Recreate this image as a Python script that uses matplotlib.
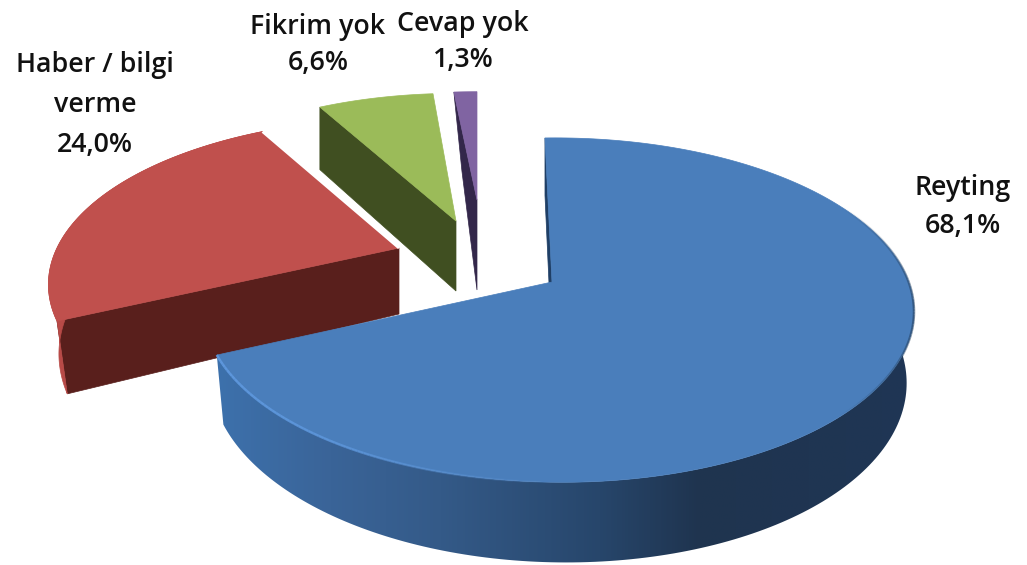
import numpy as np
import matplotlib
matplotlib.use("Agg")
import matplotlib.pyplot as plt
from matplotlib.collections import LineCollection
from matplotlib.colors import LinearSegmentedColormap, to_rgb

# data
categories = ["Reyting", "Haber / bilgi\nverme", "Fikrim yok", "Cevap yok"]
values = [68.1, 24.0, 6.6, 1.3]

# drawing styles (one per slice)
top_colors = ["#4a7ebb", "#c0504d", "#9bbb59", "#8064a2"]
face_colors = ["#1f3f66", "#591f1c", "#404f21", "#33274a"]
side_colors = ["#1f3550", "#b84a47", None, None]
centers = [(552, 282), (399, 248), (456, 221), (477, 200)]
rim_offset = [-6, 0, 0, 0]
radii_x = [350, 342, 320, 322]
radii_y = [167.5, 158, 145, 123]
persp_y = [0.163, 0.22, 0.136, 0.136]
persp_x = [0.035, 0.0, 0.0, 0.0]
shear = [-1.2, 0.0, 0.0, 0.0]
depths = [67, 66, 70, 90]
tapers = [0.02, 0.03, 0.0, 0.35]
label_pos = [(963, 207), (95, 105), (318, 45), (463, 42)]
label_gap = [1.48, 1.56, 1.41, 1.41]
draw_order = [2, 3, 1, 0]

fig = plt.figure(figsize=(10.27, 5.65), dpi=100)
ax = fig.add_axes([0, 0, 1, 1])
ax.set_xlim(0, 1027)
ax.set_ylim(565, 0)
ax.axis("off")


def project(i, theta):
    """Slice i: pie angle (deg, clockwise from the top) -> top and bottom rim."""
    t = np.radians(theta)
    u, v = np.sin(t), np.cos(t)
    s = 1 / (1 + persp_y[i] * v - persp_x[i] * u)
    dx = (radii_x[i] * u + shear[i] * v) * s
    dy = -radii_y[i] * v * s
    x = centers[i][0] + rim_offset[i] + dx
    y = centers[i][1] + dy
    return np.c_[x, y], np.c_[x - tapers[i] * dx, y + depths[i] * s]


side_stops = [(215, "#3d71ac"), (330, "#3a6498"), (440, "#345a88"),
              (600, "#27466b"), (700, "#1f344f"), (920, "#1f3655")]
span = side_stops[-1][0] - side_stops[0][0]
side_cmap = LinearSegmentedColormap.from_list(
    "side", [((p - side_stops[0][0]) / span, col) for p, col in side_stops])

edges = np.r_[0, np.cumsum(values)] / sum(values) * 360

for i in draw_order:
    a0, a1 = edges[i], edges[i + 1]
    th = np.linspace(a0, a1, 240)
    rim, low = project(i, th)
    c = np.array(centers[i], float)
    clow = c + [0, depths[i]]

    # cut face
    ax.add_patch(plt.Polygon([rim[0], c, clow, low[0]], closed=True,
                             fc=face_colors[i], ec=face_colors[i], lw=0.5))
    # outer wall
    if side_colors[i] is not None:
        wall = np.vstack([rim, low[::-1]])
        if i == 0:
            patch = plt.Polygon(wall, closed=True, fc="none", ec="none")
            ax.add_patch(patch)
            im = ax.imshow(np.linspace(0, 1, 512)[None, :], cmap=side_cmap, aspect="auto",
                           extent=(side_stops[0][0], side_stops[-1][0], 565, 300),
                           interpolation="bilinear")
            im.set_clip_path(patch)
            ax.set_xlim(0, 1027)
            ax.set_ylim(565, 0)
        else:
            ax.add_patch(plt.Polygon(wall, closed=True, fc=side_colors[i], ec=side_colors[i], lw=0.5))
    # top face
    ax.add_patch(plt.Polygon(np.vstack([c, rim]), closed=True,
                             fc=top_colors[i], ec=top_colors[i], lw=0.5, zorder=3))

    if i == 0:
        # light bevel on the near-left rim, dark one on the right rim
        segs = np.stack([rim[:-1], rim[1:]], axis=1)
        x = rim[:-1, 0]
        light = np.interp(x, [215, 330, 560], [0.95, 0.8, 0.0])
        dark = np.interp(x, [840, 890, 915], [0.0, 0.35, 0.6])
        rgba = np.zeros((len(x), 4))
        rgba[:, :3] = np.where((light > 0)[:, None], to_rgb("#5e98de"), to_rgb("#24405f"))
        rgba[:, 3] = np.maximum(light, dark)
        ax.add_collection(LineCollection(segs, colors=rgba, linewidths=1.8, zorder=4))
    if i == 1:
        # white halo against the green slice
        ax.plot([rim[-1, 0], c[0]], [rim[-1, 1], c[1]], color="white", lw=2,
                solid_capstyle="butt", zorder=3)

for name, val, (lx, ly), gap in zip(categories, values, label_pos, label_gap):
    txt = f"{name}\n{val:.1f}".replace(".", ",") + "%"
    ax.text(lx, ly, txt, ha="center", va="center", ma="center", fontsize=19.3,
            family="Open Sans", weight="semibold", color="#111111", linespacing=gap, zorder=5)

fig.savefig("out.png", dpi=100, facecolor="white")
